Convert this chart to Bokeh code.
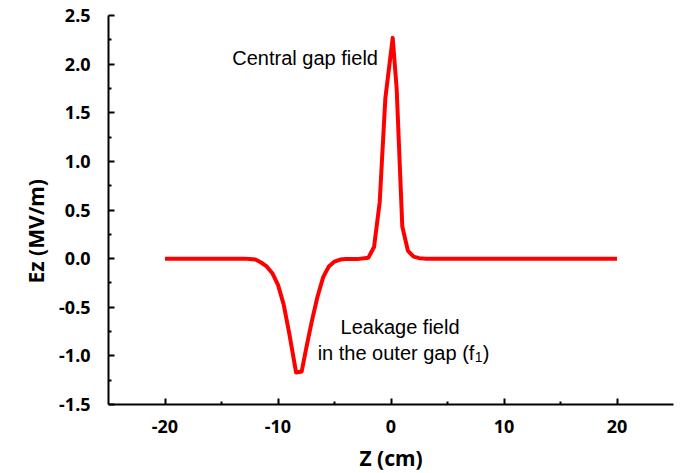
from bokeh.plotting import figure
from bokeh.models import FixedTicker, ColumnDataSource, Title
from bokeh.core.properties import value
from bokeh.embed import file_html
from bokeh.resources import INLINE

# Axial electric field profile along the gap
z_cm = [-20, -19, -18, -17, -16, -15, -14, -13, -12.5, -12, -11.5, -11, -10.5,
        -10, -9.5, -9, -8.4, -7.9, -7.5, -7, -6.5, -6, -5.5, -5, -4.5, -4, -3,
        -2, -1.5, -1, -0.5, 0.15, 0.5, 1, 1.5, 2, 2.5, 3, 4, 5, 6, 8, 10, 12,
        14, 16, 18, 20]
ez_mv_m = [0, 0, 0, 0, 0, 0, 0, 0, -0.003, -0.01, -0.04, -0.08, -0.15,
           -0.27, -0.47, -0.77, -1.17, -1.16, -0.92, -0.64, -0.39, -0.19, -0.08,
           -0.03, -0.01, -0.005, -0.005, 0.01, 0.12, 0.58, 1.65, 2.27, 1.75, 0.33,
           0.08, 0.02, 0.005, 0, 0, 0, 0, 0, 0, 0, 0, 0, 0, 0]

x_ticks = [-20, -10, 0, 10, 20]
x_tick_labels = ["-20", "-10", "0", "10", "20"]
y_ticks = [-1.5, -1.0, -0.5, 0.0, 0.5, 1.0, 1.5, 2.0, 2.5]
y_tick_labels = ["-1.5", "-1.0", "-0.5", "0.0", "0.5", "1.0", "1.5", "2.0", "2.5"]

# Annotation texts
ann_text = ["Central gap field", "Leakage field"]
ann_x = [-7.6, 0.8]
ann_y = [2.058, -0.698]

p = figure(x_range=(-25, 25), y_range=(-1.5, 2.5),
           frame_width=565, frame_height=389,
           min_border_left=108, min_border_right=15,
           min_border_top=15, min_border_bottom=69,
           output_backend="svg", toolbar_location=None)
p.outline_line_color = None
p.xgrid.visible = False
p.ygrid.visible = False
p.background_fill_color = "white"
p.border_fill_color = "white"

p.line(z_cm, ez_mv_m, line_color="#ff0000", line_width=4, line_join="round")

src = ColumnDataSource(dict(x=ann_x, y=ann_y, t=ann_text))
p.text(x="x", y="y", text="t", source=src, text_align="center",
       text_baseline="alphabetic", text_font=value("Liberation Sans"),
       text_font_size="20px", text_color="black")

# second annotation line with subscript
p.text(x=[7.38], y=[-0.966], text=["in the outer gap (f"], text_align="right",
       text_baseline="alphabetic", text_font=value("Liberation Sans"),
       text_font_size="20px", text_color="black")
p.text(x=[7.42], y=[-1.01], text=["1"], text_align="left",
       text_baseline="alphabetic", text_font=value("Liberation Sans"),
       text_font_size="14px", text_color="black")
p.text(x=[8.12], y=[-0.966], text=[")"], text_align="left",
       text_baseline="alphabetic", text_font=value("Liberation Sans"),
       text_font_size="20px", text_color="black")

for ax, ticks, labels in ((p.xaxis[0], x_ticks, x_tick_labels),
                          (p.yaxis[0], y_ticks, y_tick_labels)):
    ax.ticker = FixedTicker(ticks=ticks,
                            minor_ticks=[(a + b) / 2 for a, b in zip(ticks[:-1], ticks[1:])])
    ax.major_label_overrides = {t: l for t, l in zip(ticks, labels)}
    ax.axis_line_width = 2
    ax.axis_line_color = "black"
    ax.major_tick_in = 6
    ax.major_tick_out = 0
    ax.minor_tick_in = 3
    ax.minor_tick_out = 0
    ax.major_tick_line_width = 2
    ax.minor_tick_line_width = 2
    ax.major_label_text_font = "Noto Sans"
    ax.major_label_text_font_style = "bold"
    ax.major_label_text_font_size = "18px"
    ax.major_label_text_color = "black"
    ax.axis_label_text_font = "Noto Sans"
    ax.axis_label_text_font_style = "bold"
    ax.axis_label_text_font_size = "21px"
    ax.axis_label_text_color = "black"

p.xaxis.axis_label = "Z (cm)"
p.xaxis.major_label_standoff = 15
p.yaxis.major_label_standoff = 18
p.xaxis.axis_label_standoff = 8

# y-axis title as a side title, shifted a little below the frame centre
p.add_layout(Title(text="Ez (MV/m)", align="left", offset=121, standoff=14,
                   text_font="Noto Sans", text_font_style="bold",
                   text_font_size="21px", text_color="black"), "left")

open("out.html", "w").write(file_html(p, INLINE))
